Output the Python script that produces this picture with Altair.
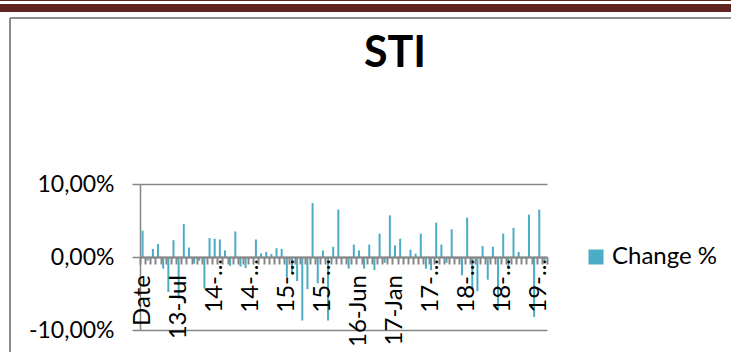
import altair as alt
import pandas as pd

# Daily change of the STI index (%), one bar per row of the sheet
change_pct = [3.6, -0.5, 1.1, 1.8, -1.6, -4.8, 2.3, -5.7, 4.5, 1.3,
              -0.9, -0.5, -4.3, 2.6, 2.5, 2.4, 0.9, -1.2, 3.5, -1.3,
              -1.5, -0.2, 2.4, 0.5, 0.7, 0.4, 1.2, 1.1, -2.8, -2.1,
              -3.3, -8.7, -4.4, 7.4, -3.6, 0.9, -8.7, 1.4, 6.5, -0.2,
              -1.6, 1.7, 0.9, -1.6, 1.7, -1.8, 3.2, -0.8, 5.7, 1.6,
              2.5, -0.2, 1.0, 0.45, 3.2, -1.6, -1.8, 4.7, 1.7, -0.8,
              3.8, -0.3, -2.5, 5.4, -4.5, -4.7, 1.5, -3.1, 1.4, -7.2,
              3.2, -1.5, 4.0, 0.7, -0.2, 5.8, -8.2, 6.5, -0.5]

# Category labels shown on every 7th row
tick_labels = ["Date", "13-Jul", "14-...", "14-...", "15-...", "15-...",
               "16-Jun", "17-Jan", "17-...", "18-...", "18-...", "19-..."]
label_step = 7

series_name = "Change %"
chart_title = "STI"
bar_color = "#4bacc6"
axis_grey = "#868686"
font = "Lato"

df = pd.DataFrame({
    "idx": list(range(len(change_pct))),
    "change": change_pct,
    "series": [series_name] * len(change_pct),
})

labels_df = pd.DataFrame({
    "idx": [k * label_step for k in range(len(tick_labels))],
    "label": tick_labels,
    "cut": [lbl.endswith("...") for lbl in tick_labels],
})

W, H = 407, 146

y_label_expr = (
    "(datum.value < 0 ? '-' : '') + "
    "replace(format(abs(datum.value), '.2f'), '.', ',') + '%'"
)

x_enc = alt.X(
    "idx:O",
    scale=alt.Scale(paddingInner=0, paddingOuter=0),
    axis=alt.Axis(
        title=None, offset=-H / 2, labels=False, tickBand="extent",
        tickSize=7, tickWidth=2, tickColor=axis_grey,
        domainColor=axis_grey, domainWidth=2, zindex=1,
    ),
)

bars = alt.Chart(df).mark_bar(size=2).encode(
    x=x_enc,
    y=alt.Y(
        "change:Q",
        scale=alt.Scale(domain=[-10, 10], nice=False),
        axis=alt.Axis(
            title=None, values=[-10, 0, 10], labelExpr=y_label_expr,
            labelFont=font, labelFontSize=23, labelColor="black",
            labelPadding=18, tickSize=8, tickWidth=1.5, tickColor=axis_grey,
            domainColor=axis_grey, domainWidth=1.5, grid=True,
            gridColor=axis_grey, gridWidth=1.5,
        ),
    ),
    color=alt.Color(
        "series:N",
        scale=alt.Scale(range=[bar_color]),
        legend=alt.Legend(
            title=None, orient="none", legendX=444, legendY=61, padding=0,
            symbolType="square", symbolSize=225, symbolStrokeWidth=0,
            labelFont=font, labelFontSize=24, labelColor="black",
            labelOffset=4,
        ),
    ),
)

# Vertical category labels below the zero line; shortened ones sit closer
label_style = dict(angle=270, align="right", baseline="middle", font=font,
                   fontSize=24, color="black")
full_labels = alt.Chart(labels_df).transform_filter(
    "!datum.cut"
).mark_text(**label_style).encode(
    x="idx:O", y=alt.value(H / 2 + 18), text="label:N"
)
cut_labels = alt.Chart(labels_df).transform_filter(
    "datum.cut"
).mark_text(**label_style).encode(
    x="idx:O", y=alt.value(H / 2 + 2), text="label:N"
)

one = pd.DataFrame({"k": [0]})

title_text = alt.Chart(one).mark_text(
    text=chart_title, font=font, fontSize=43, fontWeight="bold",
    color="black", align="center", baseline="alphabetic",
).encode(x=alt.value(255), y=alt.value(-117))

# Page decoration: header band and chart-area border
header_band = alt.Chart(one).mark_rule(color="#622423", strokeWidth=8).encode(
    x=alt.value(-140), x2=alt.value(591), y=alt.value(-176)
)
header_line = alt.Chart(one).mark_rule(color="#622423", strokeWidth=1).encode(
    x=alt.value(-140), x2=alt.value(591), y=alt.value(-183.5)
)
frame_top = alt.Chart(one).mark_rule(color="#8c8c8c", strokeWidth=2).encode(
    x=alt.value(-130), x2=alt.value(591), y=alt.value(-166)
)
frame_left = alt.Chart(one).mark_rule(color="#8c8c8c", strokeWidth=2).encode(
    x=alt.value(-130), y=alt.value(-166), y2=alt.value(168)
)

chart = alt.layer(
    header_band, header_line, frame_top, frame_left, title_text,
    bars, full_labels, cut_labels,
).properties(
    width=W,
    height=H,
    autosize="none",
    padding={"left": 140, "top": 184, "right": 184, "bottom": 22},
    background="white",
).configure_view(strokeWidth=0)

chart.save("out.html", embed_options={"renderer": "svg", "actions": False})
